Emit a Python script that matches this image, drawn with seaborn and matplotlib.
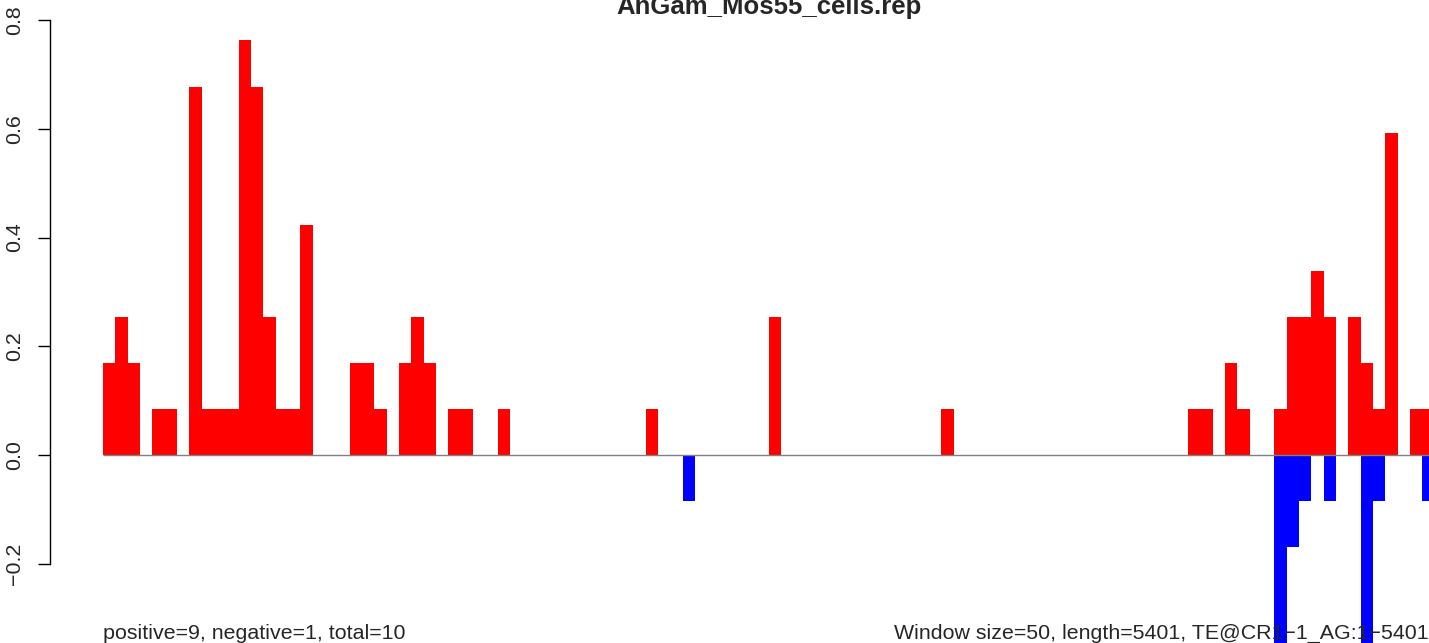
import numpy as np
import matplotlib
matplotlib.use('Agg')
import matplotlib.pyplot as plt
import seaborn as sns

# coverage per 50 bp window (window index 0..107)
positive = [
    0.169, 0.254, 0.169, 0, 0.085, 0.085, 0, 0.678, 0.085, 0.085,
    0.085, 0.763, 0.678, 0.254, 0.085, 0.085, 0.424, 0, 0, 0,
    0.169, 0.169, 0.085, 0, 0.169, 0.254, 0.169, 0, 0.085, 0.085,
    0, 0, 0.085, 0, 0, 0, 0, 0, 0, 0,
    0, 0, 0, 0, 0.085, 0, 0, 0, 0, 0,
    0, 0, 0, 0, 0.254, 0, 0, 0, 0, 0,
    0, 0, 0, 0, 0, 0, 0, 0, 0.085, 0,
    0, 0, 0, 0, 0, 0, 0, 0, 0, 0,
    0, 0, 0, 0, 0, 0, 0, 0, 0.085, 0.085,
    0, 0.169, 0.085, 0, 0, 0.085, 0.254, 0.254, 0.339, 0.254,
    0, 0.254, 0.169, 0.085, 0.593, 0, 0.085, 0.085,
]
negative = [
    0, 0, 0, 0, 0, 0, 0, 0, 0, 0,
    0, 0, 0, 0, 0, 0, 0, 0, 0, 0,
    0, 0, 0, 0, 0, 0, 0, 0, 0, 0,
    0, 0, 0, 0, 0, 0, 0, 0, 0, 0,
    0, 0, 0, 0, 0, 0, 0, -0.085, 0, 0,
    0, 0, 0, 0, 0, 0, 0, 0, 0, 0,
    0, 0, 0, 0, 0, 0, 0, 0, 0, 0,
    0, 0, 0, 0, 0, 0, 0, 0, 0, 0,
    0, 0, 0, 0, 0, 0, 0, 0, 0, 0,
    0, 0, 0, 0, 0, -0.424, -0.169, -0.085, 0, -0.085,
    0, 0, -0.424, -0.085, 0, 0, 0, -0.085,
]
yticks = [-0.2, 0.0, 0.2, 0.4, 0.6, 0.8]
title = 'AnGam_Mos55_cells.rep'
left_note = 'positive=9, negative=1, total=10'
right_note = 'Window size=50, length=5401, TE@CR1\u22121_AG:1\u22125401'

W, H = 1429, 643
sns.set_style('white')
plt.rcParams['font.family'] = ['Liberation Sans', 'DejaVu Sans']

fig = plt.figure(figsize=(W / 100, H / 100), dpi=100)
ax = fig.add_axes([50 / W, 0, (W - 50) / W, 1])

idx = np.arange(len(positive))
sns.barplot(x=idx, y=positive, color='#ff0000', saturation=1, width=1,
            linewidth=0, errorbar=None, ax=ax)
sns.barplot(x=idx, y=negative, color='#0000ff', saturation=1, width=1,
            linewidth=0, errorbar=None, ax=ax)
ax.hlines(0, -0.5, len(positive) - 0.5, color='#808080', lw=1, zorder=3)

px = 12.33  # pixels per window
ax.set_xlim(-0.5 - 53 / px, -0.5 + (W - 103) / px)
ax.set_ylim(-(H - 455) / 543.5, 455 / 543.5)

for s in ['top', 'right', 'bottom']:
    ax.spines[s].set_visible(False)
ax.spines['left'].set_bounds(-0.2, 0.8)
ax.spines['left'].set_color('black')
ax.spines['left'].set_linewidth(1)
ax.set_xticks([])
ax.set_xlabel('')
ax.set_yticks(yticks)
ax.set_yticklabels([f'{v:.1f}'.replace('-', '\u2212') for v in yticks],
                   rotation=90, va='center', fontsize=15.4)
ax.tick_params(axis='y', left=True, length=8.6, width=1, pad=10, color='black')

fig.text(768.5 / W, (H - 14) / H, title, ha='center', va='baseline',
         fontsize=18.5, fontweight='bold')
fig.text(103 / W, (H - 639) / H, left_note, ha='left', va='baseline', fontsize=15.4)
fig.text(1429 / W, (H - 639) / H, right_note, ha='right', va='baseline', fontsize=15.4)

fig.savefig('out.png', dpi=100)
